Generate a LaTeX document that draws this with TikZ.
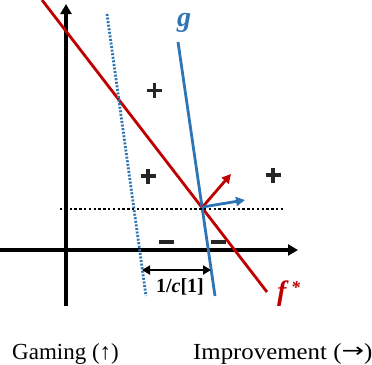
\documentclass[tikz,border=0pt]{standalone}
\usepackage{fontspec}
\setmainfont{Liberation Serif}
\newfontfamily\arrowfont{DejaVu Sans}
\usetikzlibrary{arrows.meta}
\definecolor{myred}{RGB}{192,0,0}
\definecolor{myblue}{RGB}{46,117,182}
\begin{document}
\begin{tikzpicture}[x=1pt,y=-1pt,
  axis/.style={line width=3.2pt,black,-{Triangle[length=10pt,width=11pt]}},
  redline/.style={line width=2.8pt,myred},
  blueline/.style={line width=2.8pt,myblue},
  bluedot/.style={line width=2.8pt,myblue,dash pattern=on 2pt off 1.6pt},
  blackdot/.style={line width=2.6pt,black,dash pattern=on 2.4pt off 2.4pt},
  signline/.style={line width=3.8pt,black!85},
  lbl/.style={font=\fontsize{23}{26}\selectfont,inner sep=0pt},
  mathlbl/.style={font=\fontsize{28}{28}\selectfont\bfseries\itshape,inner sep=0pt}]
\useasboundingbox (0,0) rectangle (372,364);
% axes
\coordinate (ybot) at (66,306);
\coordinate (ytop) at (66,4);
\coordinate (xl) at (0,250);
\coordinate (xr) at (298,250);
\draw[axis] (ybot) -- (ytop);
\draw[axis] (xl) -- (xr);
% lines
\coordinate (ftop) at (42,0);
\coordinate (fbot) at (267,292);
\draw[redline] (ftop) -- (fbot);
\coordinate (gtop) at (178,42);
\coordinate (gbot) at (215,296);
\draw[blueline] (gtop) -- (gbot);
\coordinate (dtop) at (107,14);
\coordinate (dbot) at (146,296);
\draw[bluedot] (dtop) -- (dbot);
\coordinate (hl) at (60,209);
\coordinate (hr) at (284,209);
\draw[blackdot] (hl) -- (hr);
% arrows at intersection
\coordinate (P) at (202.5,207);
\coordinate (rtip) at (231,174);
\coordinate (btip) at (245,200);
\draw[redline,-{Triangle[length=9pt,width=9pt]}] (P) -- (rtip);
\draw[blueline,-{Triangle[length=9pt,width=9pt]}] (P) -- (btip);
% distance
\coordinate (da) at (142,270);
\coordinate (db) at (211,270);
\draw[line width=2.8pt,{Triangle[length=8pt,width=9pt]}-{Triangle[length=8pt,width=9pt]}] (da) -- (db);
\node[inner sep=0pt,anchor=base,font=\fontsize{20}{20}\selectfont\bfseries] (dist) at (180,292) {1/\textit{c}[1]};
% labels
\node[mathlbl,text=myblue,anchor=base] (glab) at (184,27) {g};
\node[mathlbl,text=myred,anchor=base west] (flab) at (277,300) {f\,\raisebox{0.5ex}{\fontsize{18}{18}\selectfont *}};
% signs
\coordinate (p1) at (154.5,90.5);
\coordinate (p2) at (148,176);
\coordinate (p3) at (273,175);
\foreach \c in {p1,p2,p3}{
  \draw[signline] ([xshift=-7.5pt]\c) -- ([xshift=7.5pt]\c);
  \draw[signline] ([yshift=-7.5pt]\c) -- ([yshift=7.5pt]\c);
}
\coordinate (m1) at (166.5,242.3);
\coordinate (m2) at (218,242.3);
\foreach \c in {m1,m2}{
  \draw[signline] ([xshift=-7.5pt]\c) -- ([xshift=7.5pt]\c);
}
% bottom labels
\node[lbl,anchor=base west] (gam) at (12,359) {Gaming (↑)};
\node[lbl,anchor=base west] (imp) at (193,359) {\scalebox{1.08}[1]{Improvement (\raisebox{0.1ex}{\scalebox{1.25}[1]{\arrowfont\fontsize{20}{20}\selectfont →}})}};
\end{tikzpicture}
\end{document}
